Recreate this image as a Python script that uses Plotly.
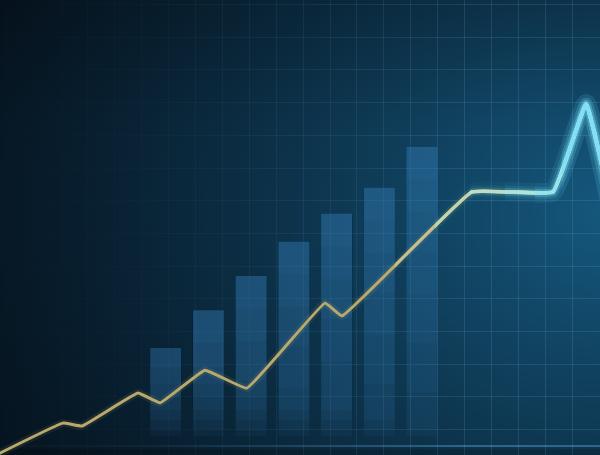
import base64
import struct
import zlib

import numpy as np
import plotly.graph_objects as go

# ------------------------------------------------------------------ data
bar_labels = ["1", "2", "3", "4", "5", "6", "7"]
bar_values = [30, 41.5, 52, 62.5, 71, 79, 91.5]

line_x = [-0.64, 2.07, 2.78, 4.86, 5.68, 7.35, 8.91, 11.81, 12.45, 17.27, 20.29, 21.52, 22.48]
line_y = [-3.7, 7.0, 6.1, 16.2, 13.2, 23.2, 17.7, 43.7, 39.8, 77.7, 77.7, 104.6, 72.2]

# ------------------------------------------------------------------ layout constants
W, H = 600, 455
X_RANGE = [-0.268, 22.037]          # line / grid axis
Y_RANGE = [-2.75, 136.4]
BAR_RANGE = [-3.877, 10.165]        # categorical bar axis

GRID = "rgba(110,180,230,0.17)"
VIG_RGB = (5, 15, 25)
VIG_PX = 470
VIG_STOPS = [(0.0, 0.93), (0.3, 0.78), (0.6, 0.42), (1.0, 0.0)]

BAR_RGBA = "rgba(55,135,195,0.065)"
BAR_DEPTHS = [10, 20, 32, 45, 60, 75, 90, 110]
BAR_FLOORS = [30, 24, 19, 15, 11, 8, 5, 3]

GOLD = "#b9a96c"
SMOOTH = 0.25
STEP_PX = [395, 435, 470, 505, 535, 562]
STEP_COLORS = ["#c4bf8c", "#c2d2aa", "#bcdfc4", "#abe4d8", "#97e3eb", "#84dff6"]
STEP_GLOW = [0.0, 0.025, 0.045, 0.06, 0.08, 0.1]
STEP_WIDTH = [3.1, 3.3, 3.5, 3.7, 3.9, 4.2]


# ------------------------------------------------------------------ background image
def bg_pixels(nx, ny):
    px = (np.arange(nx) + 0.5) * W / nx
    py = (np.arange(ny) + 0.5) * H / ny
    PX, PY = np.meshgrid(px, py)
    d = np.sqrt((PX - 610) ** 2 + (1.15 * (PY - 210)) ** 2)
    t = np.clip(1 - d / 720, 0, 1) ** 1.25
    dark = np.array([5, 17, 28.0])
    bright = np.array([21, 88, 126.0])
    D = dark + (bright - dark) * t[..., None]
    D *= (0.85 + 0.15 * np.clip(PY / 120, 0, 1))[..., None]
    D[PY > 449] *= 0.8
    A = np.interp(PX / VIG_PX, [s for s, _ in VIG_STOPS], [a for _, a in VIG_STOPS], right=0)[..., None]
    O = np.array(VIG_RGB, dtype=float)
    P = (D - A * O) / (1 - A)
    return np.clip(np.round(P), 0, 255).astype(np.uint8)


def png_uri(arr):
    h, w, _ = arr.shape
    raw = b"".join(b"\x00" + arr[i].tobytes() for i in range(h))

    def chunk(tag, data):
        c = struct.pack(">I", len(data)) + tag + data
        return c + struct.pack(">I", zlib.crc32(tag + data) & 0xFFFFFFFF)

    png = (b"\x89PNG\r\n\x1a\n"
           + chunk(b"IHDR", struct.pack(">IIBBBBB", w, h, 8, 2, 0, 0, 0))
           + chunk(b"IDAT", zlib.compress(raw, 9))
           + chunk(b"IEND", b""))
    return "data:image/png;base64," + base64.b64encode(png).decode()


fig = go.Figure()

# left vignette (main subplot, above grid)
xv = X_RANGE[0] + VIG_PX / W * (X_RANGE[1] - X_RANGE[0])
fig.add_trace(go.Scatter(
    x=[X_RANGE[0], xv, xv, X_RANGE[0]], y=[Y_RANGE[0], Y_RANGE[0], Y_RANGE[1], Y_RANGE[1]],
    mode="lines", line=dict(width=0), fill="toself",
    fillgradient=dict(type="horizontal", start=X_RANGE[0], stop=xv,
                      colorscale=[[s, "rgba(%d,%d,%d,%g)" % (*VIG_RGB, a)] for s, a in VIG_STOPS]),
    hoverinfo="skip", xaxis="x", yaxis="y"))

# bars: layered translucent bars fading downward
for dep, flo in zip(BAR_DEPTHS, BAR_FLOORS):
    base = [min(max(v - dep, flo), v) for v in bar_values]
    fig.add_trace(go.Bar(
        x=bar_labels, y=[v - b for v, b in zip(bar_values, base)], base=base,
        marker=dict(color=BAR_RGBA, line=dict(width=0)),
        hoverinfo="skip", xaxis="x2", yaxis="y"))

# golden line
fig.add_trace(go.Scatter(x=line_x, y=line_y, mode="lines",
                         line=dict(color="rgba(200,180,110,0.10)", width=8, shape="spline", smoothing=SMOOTH),
                         hoverinfo="skip", xaxis="x3", yaxis="y"))
fig.add_trace(go.Scatter(x=line_x, y=line_y, mode="lines",
                         line=dict(color=GOLD, width=3, shape="spline", smoothing=SMOOTH),
                         hoverinfo="skip", xaxis="x3", yaxis="y"))

layout_axes = {}
for k, (spx, col, glow, lw) in enumerate(zip(STEP_PX, STEP_COLORS, STEP_GLOW, STEP_WIDTH)):
    n = 4 + k
    frac = spx / W
    layout_axes["xaxis%d" % n] = dict(domain=[frac, 1],
                                      range=[X_RANGE[0] + frac * (X_RANGE[1] - X_RANGE[0]), X_RANGE[1]],
                                      visible=False, anchor="y2", fixedrange=True)
    if glow > 0:
        for gw, gm in ((20, 0.5), (13, 0.8), (8, 1.3)):
            fig.add_trace(go.Scatter(x=line_x, y=line_y, mode="lines",
                                     line=dict(color="rgba(115,225,250,%g)" % (glow * gm), width=gw,
                                               shape="spline", smoothing=SMOOTH),
                                     hoverinfo="skip", xaxis="x%d" % n, yaxis="y2"))
    fig.add_trace(go.Scatter(x=line_x, y=line_y, mode="lines",
                             line=dict(color=col, width=lw, shape="spline", smoothing=SMOOTH),
                             hoverinfo="skip", xaxis="x%d" % n, yaxis="y2"))

fig.update_layout(
    width=W, height=H, margin=dict(l=0, r=0, t=0, b=0, pad=0),
    paper_bgcolor="#061420", plot_bgcolor="rgba(0,0,0,0)",
    showlegend=False, barmode="overlay", bargap=0.275,
    images=[dict(source=png_uri(bg_pixels(300, 228)), xref="paper", yref="paper",
                 x=0, y=1, sizex=1, sizey=1, sizing="stretch", xanchor="left", yanchor="top",
                 layer="below")],
    xaxis=dict(range=X_RANGE, dtick=1, tick0=0, showgrid=True, gridcolor=GRID, gridwidth=1,
               zeroline=False, showline=False, showticklabels=False, ticks="", fixedrange=True),
    yaxis=dict(range=Y_RANGE, dtick=10, tick0=5, showgrid=True, gridcolor=GRID, gridwidth=1,
               zeroline=True, zerolinecolor="rgba(90,160,210,0.45)", zerolinewidth=2,
               showline=False, showticklabels=False, ticks="", fixedrange=True),
    xaxis2=dict(type="category", overlaying="x", range=BAR_RANGE, visible=False, fixedrange=True),
    xaxis3=dict(overlaying="x", range=X_RANGE, visible=False, fixedrange=True),
    yaxis2=dict(range=Y_RANGE, visible=False, anchor="x4", domain=[0, 1], fixedrange=True),
    **layout_axes,
)

fig.write_html("out.html", config=dict(displayModeBar=False, staticPlot=True),
               post_script="document.body.style.margin='0';document.body.style.overflow='hidden';")
